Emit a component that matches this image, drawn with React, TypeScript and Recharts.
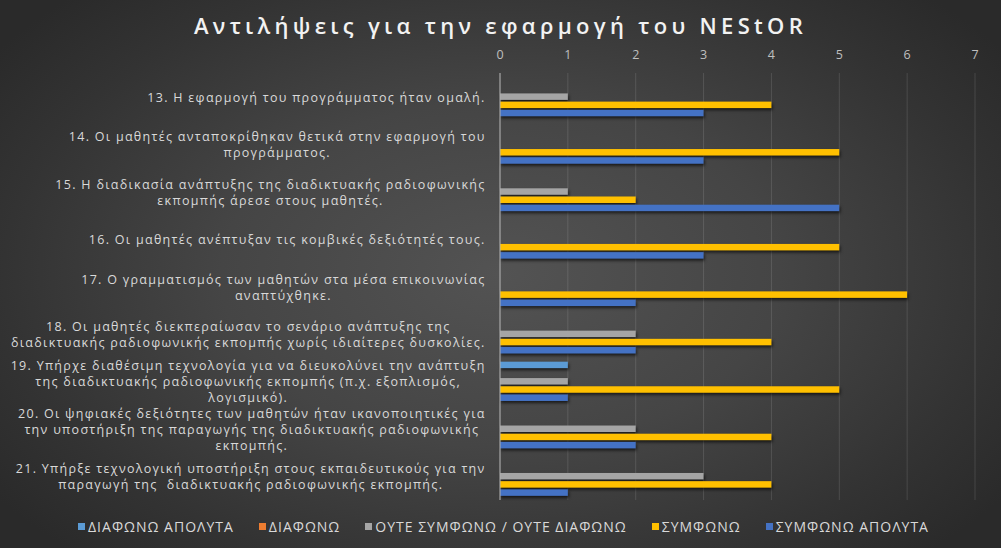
import React from 'react';
import { BarChart, Bar, XAxis, YAxis, CartesianGrid, Legend } from 'recharts';

const categories = [
  '13. Η εφαρμογή του προγράμματος ήταν ομαλή.',
  '14. Οι μαθητές ανταποκρίθηκαν θετικά στην εφαρμογή του\nπρογράμματος.',
  '15. Η διαδικασία ανάπτυξης της διαδικτυακής ραδιοφωνικής\nεκπομπής άρεσε στους μαθητές.',
  '16. Οι μαθητές ανέπτυξαν τις κομβικές δεξιότητές τους.',
  '17. Ο γραμματισμός των μαθητών στα μέσα επικοινωνίας\nαναπτύχθηκε.',
  '18. Οι μαθητές διεκπεραίωσαν το σενάριο ανάπτυξης της\nδιαδικτυακής ραδιοφωνικής εκπομπής χωρίς ιδιαίτερες δυσκολίες.',
  '19. Υπήρχε διαθέσιμη τεχνολογία για να διευκολύνει την ανάπτυξη\nτης διαδικτυακής ραδιοφωνικής εκπομπής (π.χ. εξοπλισμός,\nλογισμικό).',
  '20. Οι ψηφιακές δεξιότητες των μαθητών ήταν ικανοποιητικές για\nτην υποστήριξη της παραγωγής της διαδικτυακής ραδιοφωνικής\nεκπομπής.',
  '21. Υπήρξε τεχνολογική υποστήριξη στους εκπαιδευτικούς για την\nπαραγωγή της  διαδικτυακής ραδιοφωνικής εκπομπής.',
];

const diafonoApolyta = [0, 0, 0, 0, 0, 0, 1, 0, 0];
const diafono = [0, 0, 0, 0, 0, 0, 0, 0, 0];
const outeSymfonoOuteDiafono = [1, 0, 1, 0, 0, 2, 1, 2, 3];
const symfono = [4, 5, 2, 5, 6, 4, 5, 4, 4];
const symfonoApolyta = [3, 3, 5, 3, 2, 2, 1, 2, 1];

const xTicks = [0, 1, 2, 3, 4, 5, 6, 7];

const seriesKeys = ['da', 'd', 'o', 's', 'sa'];
const seriesNames = [
  'ΔΙΑΦΩΝΩ ΑΠΟΛΥΤΑ',
  'ΔΙΑΦΩΝΩ',
  'ΟΥΤΕ ΣΥΜΦΩΝΩ / ΟΥΤΕ ΔΙΑΦΩΝΩ',
  'ΣΥΜΦΩΝΩ',
  'ΣΥΜΦΩΝΩ ΑΠΟΛΥΤΑ',
];
const seriesColors = ['#5B9BD5', '#ED7D31', '#A5A5A5', '#FFC000', '#4472C4'];

const seriesValues = [diafonoApolyta, diafono, outeSymfonoOuteDiafono, symfono, symfonoApolyta];

const data = categories.map((name, i) => {
  const row: Record<string, any> = { name };
  seriesKeys.forEach((k, j) => {
    row[k] = seriesValues[j][i];
  });
  return row;
});

const FONT = '"Open Sans", "Noto Sans", sans-serif';
const LABEL_SIZE = 12.5;
const LABEL_LS = 1.3;
const LABEL_LH = 16;

let ctx: CanvasRenderingContext2D | null = null;
function textWidth(s: string, font: string, ls: number) {
  if (!ctx && typeof document !== 'undefined') {
    ctx = document.createElement('canvas').getContext('2d');
  }
  if (!ctx) return s.length * (7 + ls);
  ctx.font = font;
  return ctx.measureText(s).width + ls * s.length;
}

const CategoryTick = (props: any) => {
  const { x, y, payload } = props;
  const lines = String(payload.value).split('\n');
  const font = `${LABEL_SIZE}px ${FONT}`;
  const maxW = Math.max(...lines.map((l) => textWidth(l, font, LABEL_LS)));
  const cx = x - maxW / 2 + LABEL_LS / 2;
  const startDy = -((lines.length - 1) * LABEL_LH) / 2;
  return (
    <text
      x={cx}
      y={y}
      textAnchor="middle"
      dominantBaseline="central"
      fill="#d9d9d9"
      fontSize={LABEL_SIZE}
      fontFamily={FONT}
      letterSpacing={LABEL_LS}
      style={{ whiteSpace: 'pre' }}
    >
      {lines.map((l, i) => (
        <tspan key={i} x={cx} dy={i === 0 ? startDy : LABEL_LH}>
          {l}
        </tspan>
      ))}
    </text>
  );
};

const ValueTick = (props: any) => {
  const { x, y, payload } = props;
  return (
    <text x={x} y={y} dy={-6} textAnchor="middle" fill="#bfbfbf" fontSize={12.5} fontFamily={FONT}>
      {payload.value}
    </text>
  );
};

const ShadowBar = (props: any) => {
  const { x, y, width, height, fill } = props;
  if (!width || width <= 0) return null;
  return (
    <rect
      x={x}
      y={y}
      width={width}
      height={height}
      fill={fill}
      style={{ filter: 'drop-shadow(1px 2px 1.5px rgba(0,0,0,0.65))' }}
    />
  );
};

const LegendContent = () => (
  <div
    style={{
      display: 'flex',
      justifyContent: 'center',
      alignItems: 'center',
      gap: 25,
      fontFamily: FONT,
      fontSize: 14,
      letterSpacing: 1,
      color: '#d9d9d9',
      paddingLeft: 6,
    }}
  >
    {seriesNames.map((n, i) => (
      <div key={n} style={{ display: 'flex', alignItems: 'center' }}>
        <span
          style={{
            display: 'inline-block',
            width: 7,
            height: 7,
            background: seriesColors[i],
            marginRight: 3,
          }}
        />
        <span>{n}</span>
      </div>
    ))}
  </div>
);

export default function App() {
  return (
    <div
      style={{
        position: 'absolute',
        left: 0,
        top: 0,
        width: 1001,
        height: 548,
        overflow: 'hidden',
        background:
          'radial-gradient(ellipse 62% 70% at 50% 50%, #535353 0%, #454545 45%, #333333 80%, #2a2a2a 100%)',
      }}
    >
      <div
        style={{
          position: 'absolute',
          left: 0,
          top: 10,
          width: 1001,
          textAlign: 'center',
          fontFamily: FONT,
          fontSize: 22,
          fontWeight: 600,
          letterSpacing: 4.3,
          paddingLeft: 0,
          color: '#f2f2f2',
        }}
      >
        Αντιλήψεις για την εφαρμογή του NEStOR
      </div>
      <BarChart
        width={1001}
        height={548}
        data={data}
        layout="vertical"
        margin={{ top: 53, right: 26, bottom: 48, left: 0 }}
        barSize={6.5}
        barGap={1.7}
      >
        <CartesianGrid horizontal={false} vertical={true} stroke="rgba(255,255,255,0.12)" />
        <XAxis
          type="number"
          orientation="top"
          domain={[0, 7]}
          ticks={xTicks}
          height={20}
          axisLine={false}
          tickLine={false}
          tick={<ValueTick />}
          interval={0}
        />
        <YAxis
          type="category"
          dataKey="name"
          width={500}
          axisLine={{ stroke: '#b0b0b0', strokeWidth: 1 }}
          tickLine={false}
          tickMargin={9}
          tick={<CategoryTick />}
          interval={0}
        />
        <Legend
          verticalAlign="middle"
          wrapperStyle={{ top: 517, left: 0, width: 1001 }}
          content={<LegendContent />}
        />
        {seriesKeys.map((k, i) => (
          <Bar
            key={k}
            dataKey={k}
            name={seriesNames[i]}
            fill={seriesColors[i]}
            isAnimationActive={false}
            shape={<ShadowBar />}
          />
        ))}
      </BarChart>
    </div>
  );
}
